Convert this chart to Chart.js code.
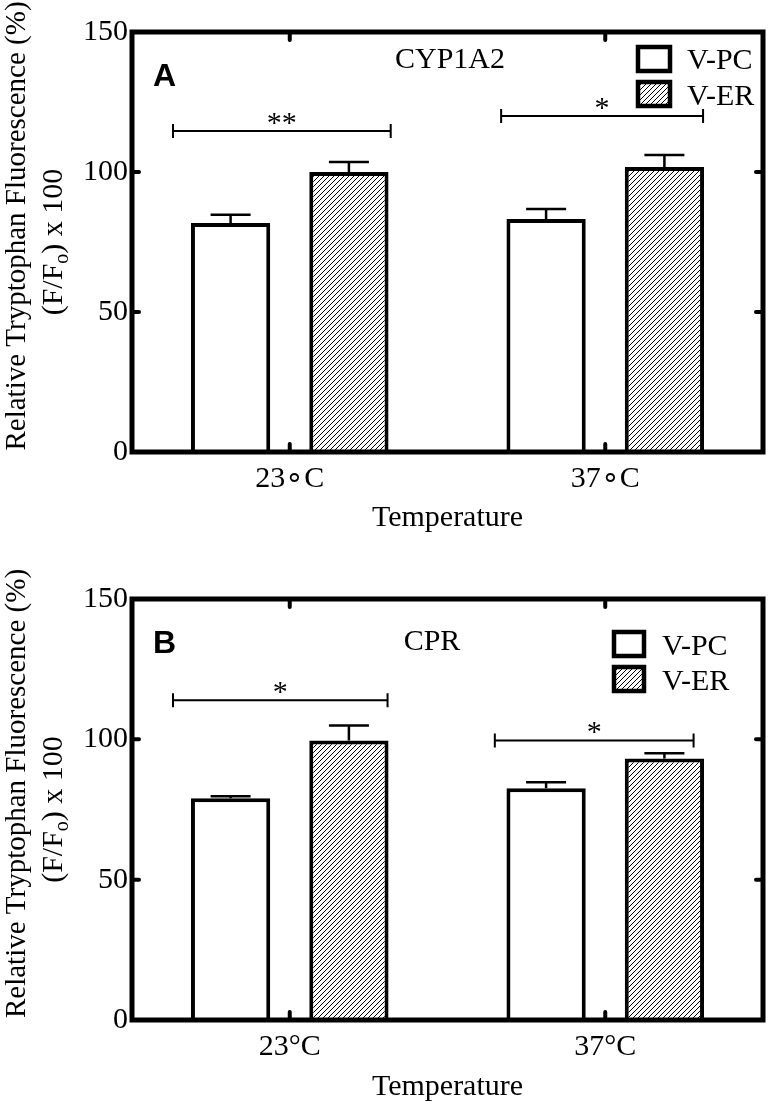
<!DOCTYPE html>
<html>
<head>
<meta charset="utf-8">
<script src="https://cdn.jsdelivr.net/npm/chart.js@4.4.0/dist/chart.umd.min.js"></script>
<style>
    html, body { margin: 0; padding: 0; background: #fff; }
    canvas { display: block; }
</style>
</head>
<body>
<canvas id="chartA" width="768" height="551"></canvas>
<canvas id="chartB" width="768" height="551"></canvas>
<script>
// Data
const categoriesA = ['23\u2218C', '37\u2218C'];
const categoriesB = ['23\u00B0C', '37\u00B0C'];
const seriesNames = ['V-PC', 'V-ER'];
const yTicks = [0, 50, 100, 150];

// Panel A - CYP1A2
const vpcA = [81.8, 83.2];
const vpcErrA = [2.9, 3.6];
const verA = [100.0, 101.8];
const verErrA = [3.6, 4.3];
const sigLabelsA = ['**', '*'];
const sigLevelsA = [114.6, 120.0];
const sigFromA = [-0.37, -0.33];
const sigToA = [0.32, 0.31];

// Panel B - CPR
const vpcB = [79.0, 82.6];
const vpcErrB = [0.7, 2.1];
const verB = [99.6, 93.2];
const verErrB = [5.3, 1.8];
const sigLabelsB = ['*', '*'];
const sigLevelsB = [113.9, 99.6];
const sigFromB = [-0.37, -0.35];
const sigToB = [0.31, 0.28];

const SERIF = '"Liberation Serif", "Times New Roman", serif';
const SANS = '"Liberation Sans", Arial, sans-serif';

// Diagonal hatch fill for V-ER bars
function makeHatch() {
    const c = document.createElement('canvas');
    c.width = 5;
    c.height = 5;
    const g = c.getContext('2d');
    g.fillStyle = '#fff';
    g.fillRect(0, 0, 5, 5);
    g.strokeStyle = '#000';
    g.lineWidth = 1;
    g.beginPath();
    g.moveTo(0, 5); g.lineTo(5, 0);
    g.moveTo(-1, 1); g.lineTo(1, -1);
    g.moveTo(4, 6); g.lineTo(6, 4);
    g.stroke();
    return g.createPattern(c, 'repeat');
}
const hatch = makeHatch();

// Frame, inner ticks, error bars, brackets, legend and labels
const overlayPlugin = {
    id: 'overlay',
    afterDatasetsDraw(chart) {
        const p = chart.options.plugins.overlay;
        const ctx = chart.ctx;
        const area = chart.chartArea;
        const x = chart.scales.x;
        const y = chart.scales.y;
        ctx.save();
        ctx.strokeStyle = '#000';
        ctx.fillStyle = '#000';

        // error bars (upper only)
        ctx.lineWidth = 2.5;
        p.errors.forEach(function(errs, di) {
            const meta = chart.getDatasetMeta(di);
            meta.data.forEach(function(bar, i) {
                const v = chart.data.datasets[di].data[i];
                const yTop = y.getPixelForValue(v + errs[i]);
                ctx.beginPath();
                ctx.moveTo(bar.x, bar.y);
                ctx.lineTo(bar.x, yTop);
                ctx.moveTo(bar.x - 20, yTop);
                ctx.lineTo(bar.x + 20, yTop);
                ctx.stroke();
            });
        });

        // frame
        ctx.lineWidth = 5;
        ctx.strokeRect(area.left, area.top, area.right - area.left, area.bottom - area.top);

        // inner ticks
        ctx.lineWidth = 4;
        ctx.lineCap = 'round';
        ctx.beginPath();
        yTicks.forEach(function(t) {
            if (t === y.min || t === y.max) return;
            const py = y.getPixelForValue(t);
            ctx.moveTo(area.left, py); ctx.lineTo(area.left + 7, py);
            ctx.moveTo(area.right, py); ctx.lineTo(area.right - 7, py);
        });
        chart.data.labels.forEach(function(l, i) {
            const px = x.getPixelForValue(i);
            ctx.moveTo(px, area.bottom); ctx.lineTo(px, area.bottom - 8);
            ctx.moveTo(px, area.top); ctx.lineTo(px, area.top + 8);
        });
        ctx.stroke();
        ctx.lineCap = 'butt';

        // significance brackets
        const catW = x.getPixelForValue(1) - x.getPixelForValue(0);
        ctx.lineWidth = 2;
        ctx.font = '30px ' + SERIF;
        ctx.textAlign = 'center';
        ctx.textBaseline = 'alphabetic';
        p.sigLabels.forEach(function(lab, i) {
            const cx = x.getPixelForValue(i);
            const x1 = cx + p.sigFrom[i] * catW;
            const x2 = cx + p.sigTo[i] * catW;
            const py = y.getPixelForValue(p.sigLevels[i]);
            ctx.beginPath();
            ctx.moveTo(x1, py); ctx.lineTo(x2, py);
            ctx.moveTo(x1, py - 7); ctx.lineTo(x1, py + 7);
            ctx.moveTo(x2, py - 7); ctx.lineTo(x2, py + 7);
            ctx.stroke();
            ctx.fillText(lab, (x1 + x2) / 2, py + 1);
        });

        // legend
        const lg = p.legend;
        chart.data.datasets.forEach(function(ds, i) {
            const by = lg.ys[i];
            ctx.fillStyle = ds.backgroundColor;
            ctx.fillRect(lg.x, by, lg.w, lg.h);
            ctx.lineWidth = 4.5;
            ctx.strokeRect(lg.x, by, lg.w, lg.h);
            ctx.fillStyle = '#000';
            ctx.textAlign = 'left';
            ctx.fillText(ds.label, lg.textX, lg.baselines[i]);
        });

        // panel letter and protein name
        ctx.font = 'bold 32px ' + SANS;
        ctx.textAlign = 'left';
        ctx.fillText(p.letter, p.letterPos[0], p.letterPos[1]);
        ctx.font = '30px ' + SERIF;
        ctx.textAlign = 'center';
        ctx.fillText(p.name, p.namePos[0], p.namePos[1]);

        // x axis title
        ctx.fillText('Temperature', (area.left + area.right) / 2, p.xTitleBaseline);

        // y axis title (two lines, with subscript)
        const yc = (area.top + area.bottom) / 2;
        ctx.save();
        ctx.translate(25, yc - 16);
        ctx.rotate(-Math.PI / 2);
        ctx.font = '29px ' + SERIF;
        ctx.fillText('Relative Tryptophan Fluorescence (%)', 0, 0);
        ctx.restore();

        ctx.save();
        ctx.translate(62, yc);
        ctx.rotate(-Math.PI / 2);
        ctx.textAlign = 'left';
        ctx.font = '30px ' + SERIF;
        const a = '(F/F', b = 'o', c = ') x 100';
        const wa = ctx.measureText(a).width;
        const wc = ctx.measureText(c).width;
        ctx.font = '20px ' + SERIF;
        const wb = ctx.measureText(b).width;
        let sx = -(wa + wb + wc) / 2;
        ctx.font = '30px ' + SERIF;
        ctx.fillText(a, sx, 0);
        ctx.font = '20px ' + SERIF;
        ctx.fillText(b, sx + wa, 6);
        ctx.font = '30px ' + SERIF;
        ctx.fillText(c, sx + wa + wb, 0);
        ctx.restore();

        ctx.restore();
    }
};

function makePanel(canvasId, cfg) {
    const ctx = document.getElementById(canvasId).getContext('2d');
    return new Chart(ctx, {
        type: 'bar',
        data: {
            labels: cfg.labels,
            datasets: [
                {
                    label: seriesNames[0],
                    data: cfg.vpc,
                    backgroundColor: '#ffffff',
                    borderColor: '#000000',
                    borderWidth: 4,
                    categoryPercentage: 0.75,
                    barPercentage: 0.67
                },
                {
                    label: seriesNames[1],
                    data: cfg.ver,
                    backgroundColor: hatch,
                    borderColor: '#000000',
                    borderWidth: 4,
                    categoryPercentage: 0.75,
                    barPercentage: 0.67
                }
            ]
        },
        options: {
            responsive: false,
            animation: false,
            devicePixelRatio: 1,
            layout: {
                padding: { top: cfg.top, right: 5, left: 0, bottom: 0 }
            },
            plugins: {
                legend: { display: false },
                tooltip: { enabled: false },
                overlay: cfg.overlay
            },
            scales: {
                x: {
                    grid: { display: false, drawTicks: false },
                    border: { display: false },
                    ticks: {
                        color: '#000',
                        font: { family: SERIF, size: 30 },
                        padding: 9,
                        maxRotation: 0
                    },
                    afterFit: function(scale) {
                        scale.height = cfg.xHeight;
                    }
                },
                y: {
                    min: 0,
                    max: 150,
                    grid: { display: false, drawTicks: false },
                    border: { display: false },
                    afterBuildTicks: function(scale) {
                        scale.ticks = yTicks.map(function(v) { return { value: v }; });
                    },
                    ticks: {
                        color: '#000',
                        font: { family: SERIF, size: 30 },
                        padding: 4
                    },
                    afterFit: function(scale) {
                        scale.width = 132;
                    }
                }
            }
        },
        plugins: [overlayPlugin]
    });
}

makePanel('chartA', {
    labels: categoriesA,
    vpc: vpcA,
    ver: verA,
    top: 32,
    xHeight: 99,
    overlay: {
        errors: [vpcErrA, verErrA],
        sigLabels: sigLabelsA,
        sigLevels: sigLevelsA,
        sigFrom: sigFromA,
        sigTo: sigToA,
        letter: 'A',
        letterPos: [153, 86],
        name: 'CYP1A2',
        namePos: [450, 68],
        xTitleBaseline: 526,
        legend: { x: 638, ys: [47, 82], w: 32, h: 24, textX: 687, baselines: [69, 105] }
    }
});

makePanel('chartB', {
    labels: categoriesB,
    vpc: vpcB,
    ver: verB,
    top: 48,
    xHeight: 82,
    overlay: {
        errors: [vpcErrB, verErrB],
        sigLabels: sigLabelsB,
        sigLevels: sigLevelsB,
        sigFrom: sigFromB,
        sigTo: sigToB,
        letter: 'B',
        letterPos: [153, 102],
        name: 'CPR',
        namePos: [432, 99],
        xTitleBaseline: 544,
        legend: { x: 614, ys: [81, 116], w: 30, h: 24, textX: 662, baselines: [104, 139] }
    }
});
</script>
</body>
</html>
